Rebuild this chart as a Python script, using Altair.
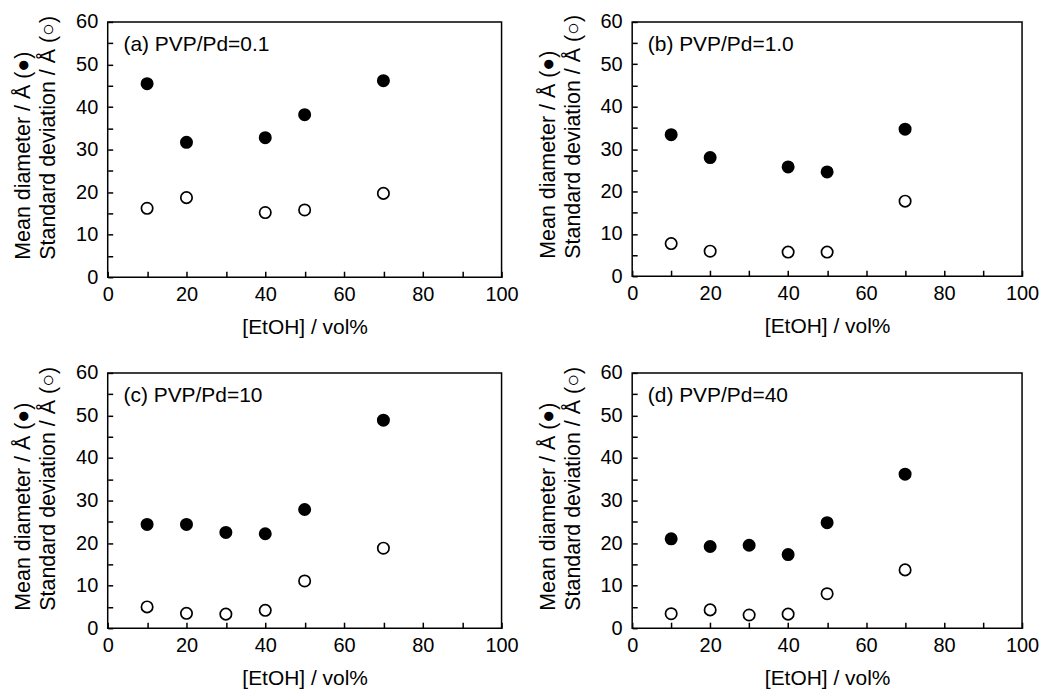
import altair as alt
import pandas as pd

# ---- data ----
labels = ["(a)  PVP/Pd=0.1", "(b)  PVP/Pd=1.0", "(c)  PVP/Pd=10", "(d)  PVP/Pd=40"]

etoh_a = [10, 20, 40, 50, 70]
mean_a = [45.5, 31.7, 32.8, 38.2, 46.2]
std_a = [16.2, 18.7, 15.2, 15.8, 19.7]

etoh_b = [10, 20, 40, 50, 70]
mean_b = [33.4, 28.0, 25.8, 24.6, 34.7]
std_b = [7.7, 5.9, 5.7, 5.7, 17.7]

etoh_c = [10, 20, 30, 40, 50, 70]
mean_c = [24.4, 24.4, 22.5, 22.2, 27.9, 48.9]
std_c = [5.0, 3.5, 3.3, 4.2, 11.1, 18.8]

etoh_d = [10, 20, 30, 40, 50, 70]
mean_d = [21.0, 19.2, 19.5, 17.3, 24.8, 36.2]
std_d = [3.4, 4.3, 3.1, 3.3, 8.1, 13.7]

# tick positions (every tick is drawn inward, only some carry a label)
x_ticks = [0, 10, 20, 30, 40, 50, 60, 70, 80, 90, 100]
y_ticks = [0, 5, 10, 15, 20, 25, 30, 35, 40, 45, 50, 55, 60]
label_x = [4]
label_y = [54.6]

FONT = "Liberation Sans"
y_title = ["Mean diameter / Å (●)", "Standard deviation / Å (○)"]
x_title = "[EtOH] / vol%"
X_MAX, Y_MAX = 100, 60


def panel(label, xs, means, stds, w, h):
    df = pd.DataFrame({"x": xs, "mean": means, "std": stds})
    xsc = alt.Scale(domain=[0, X_MAX], nice=False)
    ysc = alt.Scale(domain=[0, Y_MAX], nice=False)
    # axes pushed into the plot by the tick length so that the ticks point inward
    xax = alt.Axis(
        values=x_ticks, labelExpr="datum.value % 20 == 0 ? datum.label : ''",
        title=x_title, offset=-6, ticks=True, tickSize=6, tickWidth=1.5, tickColor="black",
        labelPadding=7, titlePadding=12, labelFlush=False, labelOverlap=False,
        labelFontSize=20, titleFontSize=21)
    yax = alt.Axis(
        values=y_ticks, labelExpr="datum.value % 10 == 0 ? datum.label : ''",
        title=y_title, offset=-5, ticks=True, tickSize=5, tickWidth=1.5, tickColor="black",
        labelPadding=10, labelFlush=False, labelOverlap=False,
        labelFontSize=20, titleFontSize=21.5, titleAngle=270,
        titleAlign="left", titleBaseline="top", titleX=-100, titleY=h - 18,
        titleLineHeight=25)

    def X(f):
        return alt.X(f, scale=xsc, axis=xax, title=x_title)

    def Y(f):
        return alt.Y(f, scale=ysc, axis=yax, title=y_title)

    filled = alt.Chart(df).mark_circle(size=170, color="black", opacity=1).encode(
        x=X("x:Q"), y=Y("mean:Q"))
    hollow = alt.Chart(df).mark_point(
        shape="circle", filled=False, size=130, strokeWidth=1.7,
        color="black", fill="white", fillOpacity=1, opacity=1
    ).encode(x=X("x:Q"), y=Y("std:Q"))
    txt = alt.Chart(pd.DataFrame({"x": label_x, "y": label_y, "t": [label]})).mark_text(
        align="left", baseline="middle", fontSize=21, font=FONT, color="black"
    ).encode(x=X("x:Q"), y=Y("y:Q"), text="t:N")
    return alt.layer(filled, hollow, txt).properties(width=w, height=h)


pa = panel(labels[0], etoh_a, mean_a, std_a, 395, 256)
pb = panel(labels[1], etoh_b, mean_b, std_b, 391, 255)
pc = panel(labels[2], etoh_c, mean_c, std_c, 395, 256)
pd_ = panel(labels[3], etoh_d, mean_d, std_d, 391, 256)

chart = alt.vconcat(
    alt.hconcat(pa, pb, spacing=17),
    alt.hconcat(pc, pd_, spacing=17),
    spacing=24,
).properties(
    padding={"left": 4, "top": 2, "right": 0, "bottom": 0},
    background="white",
).configure_view(
    stroke="black", strokeWidth=1.5
).configure_axis(
    domain=False, grid=False,
    labelColor="black", titleColor="black",
    labelFont=FONT, titleFont=FONT, titleFontWeight="normal"
)

chart.save("out.html", embed_options={"renderer": "svg", "actions": False})
